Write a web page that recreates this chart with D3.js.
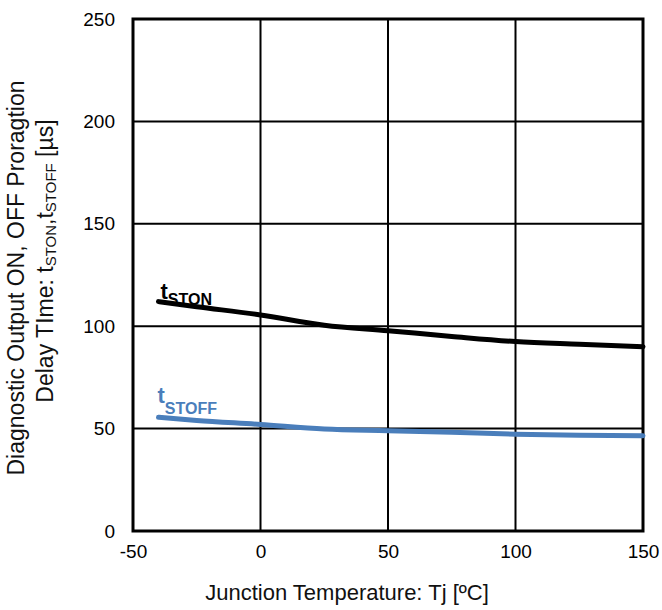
<!DOCTYPE html>
<html>
<head>
<meta charset="utf-8">
<script src="https://cdn.jsdelivr.net/npm/d3@7"></script>
<style>
  body { margin: 0; background: #fff; }
  svg { font-family: "Liberation Sans", Arial, sans-serif; }
</style>
</head>
<body>
<div id="chart"></div>
<script>
// Temperatur-punkter og måleværdier
const temps = [-40, -25, 0, 25, 50, 75, 100, 125, 150];
const ston = [112, 109.5, 105.5, 100.5, 97.8, 95, 92.5, 91.2, 90];
const stoff = [55.5, 54, 52, 49.8, 49, 48.2, 47.3, 46.8, 46.5];
const xTicks = [-50, 0, 50, 100, 150];
const yTicks = [0, 50, 100, 150, 200, 250];

const W = 662, H = 610;
const margin = { top: 19, right: 19, bottom: 79, left: 133 },
      width = W - margin.left - margin.right,
      height = H - margin.top - margin.bottom;

const svg = d3.select("#chart").append("svg")
  .attr("width", W).attr("height", H);

const g = svg.append("g")
  .attr("transform", `translate(${margin.left},${margin.top})`);

const x = d3.scaleLinear().domain([-50, 150]).range([0, width]);
const y = d3.scaleLinear().domain([0, 250]).range([height, 0]);

// Gitterlinjer
g.selectAll(".vgrid").data(xTicks.slice(1, -1)).enter().append("line")
  .attr("x1", d => x(d)).attr("x2", d => x(d))
  .attr("y1", 0).attr("y2", height)
  .attr("stroke", "#000").attr("stroke-width", 2);
g.selectAll(".hgrid").data(yTicks.slice(1, -1)).enter().append("line")
  .attr("x1", 0).attr("x2", width)
  .attr("y1", d => y(d)).attr("y2", d => y(d))
  .attr("stroke", "#000").attr("stroke-width", 2);

// Ramme
g.append("rect")
  .attr("width", width).attr("height", height)
  .attr("fill", "none").attr("stroke", "#000").attr("stroke-width", 3);

// Akser (kun tekst)
const xAxis = g.append("g")
  .attr("transform", `translate(0,${height})`)
  .call(d3.axisBottom(x).tickValues(xTicks).tickSize(0).tickPadding(14)
    .tickFormat(d => String(d)));
const yAxis = g.append("g")
  .call(d3.axisLeft(y).tickValues(yTicks).tickSize(0).tickPadding(18)
    .tickFormat(d => String(d)));
[xAxis, yAxis].forEach(a => {
  a.select(".domain").remove();
  a.selectAll("text")
    .style("font-family", "'Liberation Sans', Arial, sans-serif")
    .style("font-size", "19px").attr("fill", "#000");
});

// Kurver
const line = d3.line()
  .x((d, i) => x(temps[i]))
  .y(d => y(d))
  .curve(d3.curveMonotoneX);

g.append("path").datum(ston)
  .attr("fill", "none").attr("stroke", "#000")
  .attr("stroke-width", 5).attr("stroke-linecap", "round")
  .attr("d", line);
g.append("path").datum(stoff)
  .attr("fill", "none").attr("stroke", "#4a7ebb")
  .attr("stroke-width", 5).attr("stroke-linecap", "round")
  .attr("d", line);

// Kurve-labels
function label(tx, ty, sub, subDy, color) {
  const t = g.append("text")
    .attr("x", tx).attr("y", ty)
    .attr("fill", color).style("font-weight", "bold");
  t.append("tspan").style("font-size", "22px").text("t");
  t.append("tspan").style("font-size", "16px").attr("dy", subDy).text(sub);
}
label(x(-40) + 2, y(112) - 3, "STON", 6, "#000");
label(x(-40) - 1, y(55.5) - 14, "STOFF", 11, "#4a7ebb");

// Aksetitler
svg.append("text")
  .attr("x", margin.left + width / 2 - 41).attr("y", 600)
  .attr("text-anchor", "middle")
  .style("font-size", "22px").attr("fill", "#111")
  .text("Junction Temperature: Tj [ºC]");

const yt1 = svg.append("text")
  .attr("transform", "translate(24,278) rotate(-90)")
  .attr("text-anchor", "middle")
  .style("font-size", "23px").attr("fill", "#111")
  .text("Diagnostic Output ON, OFF Proragtion");
const yt2 = svg.append("text")
  .attr("transform", "translate(53,261) rotate(-90)")
  .attr("text-anchor", "middle")
  .style("font-size", "23px").attr("fill", "#111");
yt2.append("tspan").text("Delay TIme: t");
yt2.append("tspan").style("font-size", "15px").attr("dy", 3).text("STON");
yt2.append("tspan").attr("dy", -3).text(",t");
yt2.append("tspan").style("font-size", "15px").attr("dy", 3).text("STOFF");
yt2.append("tspan").attr("dy", -3).text(" [µs]");
</script>
</body>
</html>
